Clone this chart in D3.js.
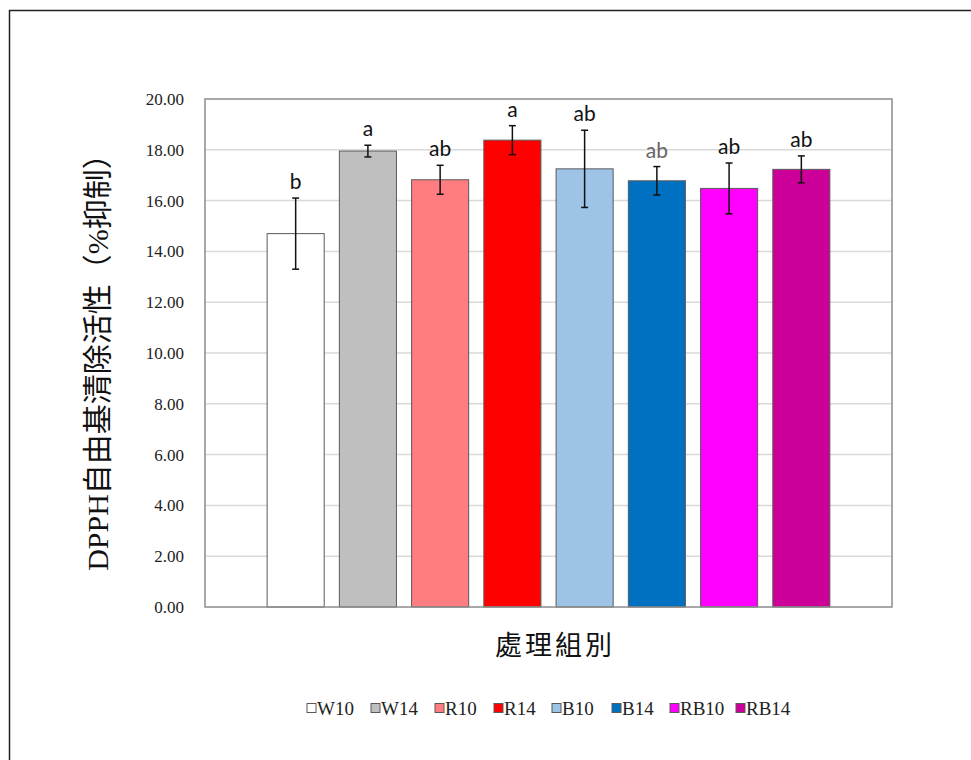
<!DOCTYPE html>
<html>
<head>
<meta charset="utf-8">
<script src="https://cdn.jsdelivr.net/npm/d3@7"></script>
<style>
  body { margin: 0; background: #fff; }
</style>
</head>
<body>
<div id="chart"></div>
<script>
// chart data
const groups = ["W10", "W14", "R10", "R14", "B10", "B14", "RB10", "RB14"];
const means = [14.70, 17.95, 16.82, 18.38, 17.25, 16.78, 16.48, 17.23];
const errors = [1.40, 0.23, 0.57, 0.57, 1.52, 0.56, 1.00, 0.53];
const letters = ["b", "a", "ab", "a", "ab", "ab", "ab", "ab"];
const barColors = ["#ffffff", "#bfbfbf", "#ff7c80", "#ff0000", "#9dc3e6", "#0070c0", "#ff00ff", "#cc0099"];
const yTicks = [0, 2, 4, 6, 8, 10, 12, 14, 16, 18, 20];

const canvWidth = 971, canvHeight = 760;
const plot = {left: 205, right: 892, top: 99, bottom: 607};
const serif = "'Liberation Serif', 'Times New Roman', serif";

const svg = d3.select("#chart")
    .append("svg")
    .attr("width", canvWidth)
    .attr("height", canvHeight);

// outer frame (left and top edges only visible)
svg.append("path")
    .attr("d", `M9.5,${canvHeight} V10.5 H${canvWidth}`)
    .attr("fill", "none")
    .attr("stroke", "#222")
    .attr("stroke-width", 1.5);

const x = d3.scaleBand()
    .domain(groups)
    .range([plot.left, plot.right])
    .paddingInner(0.21)
    .paddingOuter(0.86);

const y = d3.scaleLinear()
    .domain([0, 20])
    .range([plot.bottom, plot.top]);

// gridlines
svg.append("g")
    .selectAll("line")
    .data(yTicks.filter(t => t > 0 && t < 20))
    .join("line")
    .attr("x1", plot.left)
    .attr("x2", plot.right)
    .attr("y1", d => y(d))
    .attr("y2", d => y(d))
    .attr("stroke", "#d9d9d9")
    .attr("stroke-width", 1.5);

// y tick labels
const yAxis = svg.append("g")
    .attr("transform", `translate(${plot.left},0)`)
    .call(d3.axisLeft(y).tickValues(yTicks).tickFormat(d3.format(".2f")).tickSize(0).tickPadding(21))
    .attr("font-family", serif)
    .attr("font-size", 17);
yAxis.select(".domain").remove();
yAxis.selectAll("text")
    .style("font-family", serif)
    .style("font-size", "17px")
    .attr("fill", "#222");

// bars
svg.append("g")
    .selectAll("rect")
    .data(groups)
    .join("rect")
    .attr("x", d => x(d))
    .attr("width", x.bandwidth())
    .attr("y", (d, i) => y(means[i]))
    .attr("height", (d, i) => y(0) - y(means[i]))
    .attr("fill", (d, i) => barColors[i])
    .attr("stroke", "#5a5a5a")
    .attr("stroke-width", 1);

// error bars
const err = svg.append("g")
    .attr("stroke", "#111")
    .attr("stroke-width", 1.5);
groups.forEach((g, i) => {
    const cx = x(g) + x.bandwidth() / 2;
    const hi = y(means[i] + errors[i]), lo = y(means[i] - errors[i]);
    err.append("line").attr("x1", cx).attr("x2", cx).attr("y1", hi).attr("y2", lo);
    err.append("line").attr("x1", cx - 3.5).attr("x2", cx + 3.5).attr("y1", hi).attr("y2", hi);
    err.append("line").attr("x1", cx - 3.5).attr("x2", cx + 3.5).attr("y1", lo).attr("y2", lo);
});

// significance letters
svg.append("g")
    .selectAll("text")
    .data(groups)
    .join("text")
    .attr("x", d => x(d) + x.bandwidth() / 2)
    .attr("y", (d, i) => y(means[i] + errors[i]) - 9)
    .attr("text-anchor", "middle")
    .attr("font-family", "Lato, 'Open Sans', sans-serif")
    .style("font-size", "21px")
    .attr("fill", (d, i) => i === 5 ? "#666" : "#111")
    .text((d, i) => letters[i]);

// plot area border
svg.append("rect")
    .attr("x", plot.left)
    .attr("y", plot.top)
    .attr("width", plot.right - plot.left)
    .attr("height", plot.bottom - plot.top)
    .attr("fill", "none")
    .attr("stroke", "#8c8c8c")
    .attr("stroke-width", 1.5);

// y axis title
svg.append("text")
    .attr("transform", `translate(108,${(plot.top + plot.bottom) / 2 + 2}) rotate(-90)`)
    .attr("text-anchor", "middle")
    .attr("font-family", "'Liberation Serif', 'Noto Sans CJK TC', serif")
    .style("font-size", "30px")
    .attr("fill", "#111")
    .text("DPPH自由基清除活性（%抑制）");

// x axis title
svg.append("text")
    .attr("x", 555)
    .attr("y", 655)
    .attr("text-anchor", "middle")
    .attr("font-family", "'Noto Sans CJK TC', serif")
    .style("font-size", "27px")
    .style("letter-spacing", "3px")
    .attr("fill", "#111")
    .text("處理組別");

// legend
const legendX = [307, 371, 435, 494, 552, 612, 670, 736];
const legend = svg.append("g");
groups.forEach((g, i) => {
    const item = legend.append("g").attr("transform", `translate(${legendX[i]},708)`);
    item.append("rect")
        .attr("x", 0).attr("y", -4.5)
        .attr("width", 9).attr("height", 9)
        .attr("fill", barColors[i])
        .attr("stroke", "#5a5a5a")
        .attr("stroke-width", 1);
    item.append("text")
        .attr("x", 10)
        .attr("y", 6.5)
        .style("font-family", serif)
        .style("font-size", "19px")
        .attr("fill", "#222")
        .text(g);
});
</script>
</body>
</html>
